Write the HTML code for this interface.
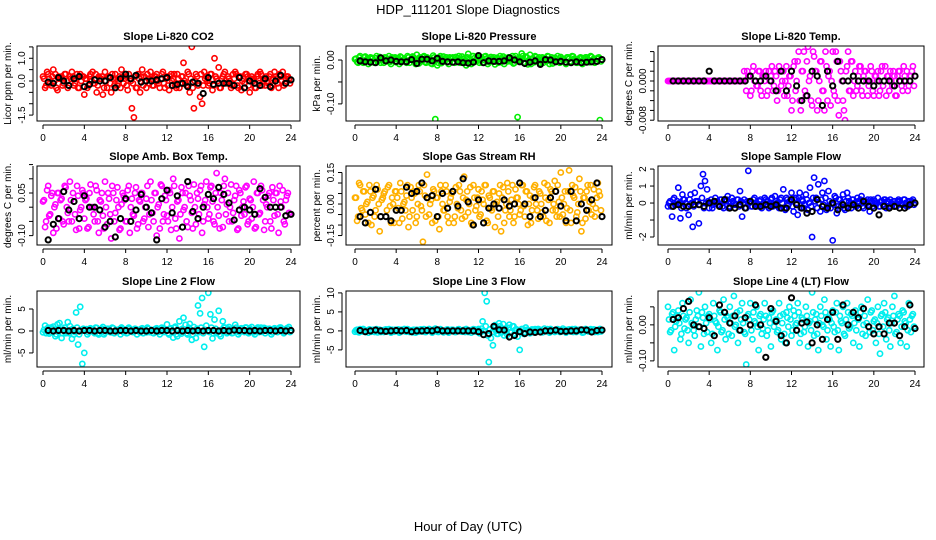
<!DOCTYPE html>
<html><head><meta charset="utf-8"><style>
body{margin:0;background:#fff}
svg{display:block;font-family:"Liberation Sans",sans-serif}
</style></head><body>
<svg id="chart" width="936" height="540" viewBox="0 0 936 540">
<text x="468" y="14" text-anchor="middle" font-size="13">HDP_111201  Slope Diagnostics</text>
<text x="468" y="531" text-anchor="middle" font-size="13">Hour of Day (UTC)</text>
</svg>
<script>
const hoursColored = [0,0.2,0.4,0.6,0.8,1,1.2,1.4,1.6,1.8,2,2.2,2.4,2.6,2.8,3,3.2,3.4,3.6,3.8,4,4.2,4.4,4.6,4.8,5,5.2,5.4,5.6,5.8,6,6.2,6.4,6.6,6.8,7,7.2,7.4,7.6,7.8,8,8.2,8.4,8.6,8.8,9,9.2,9.4,9.6,9.8,10,10.2,10.4,10.6,10.8,11,11.2,11.4,11.6,11.8,12,12.2,12.4,12.6,12.8,13,13.2,13.4,13.6,13.8,14,14.2,14.4,14.6,14.8,15,15.2,15.4,15.6,15.8,16,16.2,16.4,16.6,16.8,17,17.2,17.4,17.6,17.8,18,18.2,18.4,18.6,18.8,19,19.2,19.4,19.6,19.8,20,20.2,20.4,20.6,20.8,21,21.2,21.4,21.6,21.8,22,22.2,22.4,22.6,22.8,23,23.2,23.4,23.6,23.8];
const hoursCore = [0.1,0.3,0.5,0.7,0.9,1.1,1.3,1.5,1.7,1.9,2.1,2.3,2.5,2.7,2.9,3.1,3.3,3.5,3.7,3.9,4.1,4.3,4.5,4.7,4.9,5.1,5.3,5.5,5.7,5.9,6.1,6.3,6.5,6.7,6.9,7.1,7.3,7.5,7.7,7.9,8.1,8.3,8.5,8.7,8.9,9.1,9.3,9.5,9.7,9.9,10.1,10.3,10.5,10.7,10.9,11.1,11.3,11.5,11.7,11.9,12.1,12.3,12.5,12.7,12.9,13.1,13.3,13.5,13.7,13.9,14.1,14.3,14.5,14.7,14.9,15.1,15.3,15.5,15.7,15.9,16.1,16.3,16.5,16.7,16.9,17.1,17.3,17.5,17.7,17.9,18.1,18.3,18.5,18.7,18.9,19.1,19.3,19.5,19.7,19.9,20.1,20.3,20.5,20.7,20.9,21.1,21.3,21.5,21.7,21.9,22.1,22.3,22.5,22.7,22.9,23.1,23.3,23.5,23.7,23.9];
const hoursBlack = [0.5,1,1.5,2,2.5,3,3.5,4,4.5,5,5.5,6,6.5,7,7.5,8,8.5,9,9.5,10,10.5,11,11.5,12,12.5,13,13.5,14,14.5,15,15.5,16,16.5,17,17.5,18,18.5,19,19.5,20,20.5,21,21.5,22,22.5,23,23.5,24];
const xTicks = [0,4,8,12,16,20,24];

const co2Colored = [0.2,-0.3,0.4,0.1,-0.2,0.5,0.3,-0.4,0.1,0.2, -0.1,0.3,-0.3,0.2,0.4,-0.2,0.1,-0.3,0.3,0.2, -0.6,0.1,-0.2,0.3,0.4,-0.1,-0.5,0.2,0.1,-0.6, 0.4,-0.3,0.2,-0.5,0.1,0.3,-0.2,0.2,0.5,-0.1, 0.2,-0.4,0.1,-1.2,-1.6,-0.3,0.3,-0.5,0.5,0.2, -0.3,0.1,0.4,-0.2,0.2,0.3,-0.1,0.1,0.4,-0.3, 0.2,-0.4,0.3,0.1,-0.2,0.3,-0.3,0.2,0.8,-0.1, 0.4,-0.5,1.5,-1.2,0.3,-0.2,-0.7,-1.0,0.4,0.2, -0.2,0.3,-0.4,1.0,0.1,0.6,-0.3,0.2,0.4,-0.1, 0.1,-0.3,0.3,0.4,-0.2,0.2,-0.4,0.1,0.3,0.2, -0.5,0.2,0.1,-0.3,0.3,0.4,-0.2,0.1,0.2,-0.1, 0.3,-0.2,0.4,0.1,-0.3,0.2,0.4,-0.1,0.2,0.1];
const co2Core = [0.1,-0.2,0.3,-0.1,0.2,0.0,-0.3,0.2,0.1,-0.2, 0.3,0.0,-0.2,0.1,0.2,-0.1,0.3,-0.3,0.0,0.2, 0.1,-0.3,0.2,0.0,-0.1,0.3,-0.2,0.1,0.2,-0.3, 0.0,0.2,-0.1,0.3,-0.2,0.1,0.0,-0.3,0.2,0.1, -0.2,0.3,0.0,-0.1,0.2,-0.3,0.1,0.2,-0.2,0.0, 0.3,-0.1,0.1,-0.2,0.2,0.0,-0.3,0.3,-0.1,0.1, -0.2,0.2,0.0,0.3,-0.3,0.1,-0.1,0.2,0.0,-0.2, 0.3,0.1,-0.3,0.0,0.2,-0.1,0.3,-0.2,0.1,0.0, -0.1,0.3,-0.2,0.2,0.0,-0.3,0.1,0.3,-0.1,0.2, 0.0,-0.2,0.1,0.3,-0.3,0.2,0.0,-0.1,0.3,-0.2, 0.1,0.0,-0.3,0.2,-0.1,0.3,0.1,-0.2,0.0,0.2, -0.3,0.1,0.2,-0.1,0.3,0.0,-0.2,0.1,0.2,-0.1];
const co2Black = [-0.05,-0.1,0.15,0.0,-0.2,0.1,0.2,-0.25, -0.15,0.05,0.0,0.0,0.15,-0.3,0.1,0.3, 0.1,0.25,-0.05,0.0,0.0,0.05,0.1,0.15, -0.2,-0.15,-0.1,-0.25,-0.05,-0.1,-0.55,0.15, -0.15,-0.1,-0.1,-0.1,-0.2,0.15,-0.3,0.0, -0.1,-0.2,0.1,-0.25,0.0,0.25,-0.1,0.05];

const presColored = [0.002,-0.004,0.006,0.000,-0.006,0.008,0.003,-0.002,0.005,-0.005, 0.004,-0.003,0.007,0.001,-0.006,0.005,0.002,-0.004,0.006,0.003, -0.005,0.004,0.008,-0.002,0.003,-0.006,0.006,0.001,0.008,-0.003, 0.012,-0.008,0.004,0.007,-0.004,0.006,0.002,-0.008,0.010,-0.135, -0.012,0.005,-0.007,0.008,0.002,-0.004,0.006,0.003,-0.005,0.007, 0.004,-0.006,0.008,0.002,-0.012,0.014,-0.005,0.009,0.004,-0.003, 0.006,0.001,-0.006,0.008,0.003,-0.004,0.007,0.002,-0.010,0.005, 0.003,-0.005,0.008,0.004,-0.003,0.006,0.002,-0.008,0.009,-0.130, 0.004,0.015,-0.006,0.008,-0.010,0.012,0.003,-0.005,0.007,0.002, -0.006,0.006,0.004,-0.003,0.008,0.002,-0.008,0.005,0.003,-0.004, 0.007,0.002,-0.005,0.006,0.003,-0.004,0.008,0.001,-0.006,0.004, 0.005,-0.003,0.006,0.002,-0.005,0.007,0.003,-0.004,0.005,-0.137];
const presCore = [0.003,-0.006,0.009,-0.003,0.006,0,-0.009,0.006,0.003,-0.006, 0.009,0,-0.006,0.003,0.006,-0.003,0.009,-0.009,0,0.006, 0.003,-0.009,0.006,0,-0.003,0.009,-0.006,0.003,0.006,-0.009, 0,0.006,-0.003,0.009,-0.006,0.003,0,-0.009,0.006,0.003, -0.006,0.009,0,-0.003,0.006,-0.009,0.003,0.006,-0.006,0, 0.009,-0.003,0.003,-0.006,0.006,0,-0.009,0.009,-0.003,0.003, -0.006,0.006,0,0.009,-0.009,0.003,-0.003,0.006,0,-0.006, 0.009,0.003,-0.009,0,0.006,-0.003,0.009,-0.006,0.003,0, -0.003,0.009,-0.006,0.006,0,-0.009,0.003,0.009,-0.003,0.006, 0,-0.006,0.003,0.009,-0.009,0.006,0,-0.003,0.009,-0.006, 0.003,0,-0.009,0.006,-0.003,0.009,0.003,-0.006,0,0.006, -0.009,0.003,0.006,-0.003,0.009,0,-0.006,0.003,0.006,-0.003];
const presBlack = [-0.002,-0.004,-0.005,-0.006,0.005,-0.002,0.000,-0.003, -0.004,-0.004,0.001,-0.008,0.002,0.002,-0.002,0.004, -0.003,-0.004,-0.005,-0.004,-0.006,-0.007,-0.005,0.010, -0.006,-0.002,-0.003,-0.003,-0.002,0.005,0.000,-0.004, -0.008,-0.005,-0.002,-0.010,0.001,0.000,-0.004,-0.003, -0.005,-0.006,-0.004,-0.006,-0.005,-0.004,-0.003,0.001];

const tempColored = [0,0,0,0,0,0,0,0,0,0, 0,0,0,0,0,0,0,0,0,0, 0,0,0,0,0,0,0,0,0,0, 0,0,0,0,0,0,0,0.002,-0.002,0.001, -0.003,0.002,0.000,-0.001,0.002,-0.002,0.001,0.000,-0.003,0.002, 0.001,-0.002,0.002,-0.004,0.003,-0.001,0.002,0.000,-0.003,0.001, -0.006,0.003,-0.002,0.004,-0.004,0.002,0.006,-0.003,0.007,0.001, -0.005,0.005,0.002,-0.004,0.004,-0.002,-0.006,0.003,0.001,-0.005, 0.006,-0.003,0.004,-0.007,0.002,-0.004,-0.008,0.003,-0.002,0.004, -0.003,0.002,-0.001,0.003,-0.002,0.001,0.002,-0.003,0.000,0.002, -0.003,0.001,0.002,-0.002,0.003,0.000,-0.003,0.001,0.002,-0.001, 0.001,-0.003,0.002,0.000,-0.002,0.001,0.002,-0.001,0.001,0.003];
const tempCore = [0,0,0,0,0,0,0,0,0,0, 0,0,0,0,0,0,0,0,0,0, 0,0,0,0,0,0,0,0,0,0, 0,0,0,0,0,0,0,0,0.002,0.001, -0.002,0.003,0,-0.001,0.002,-0.003,0.001,0.002,-0.002,0, 0.003,-0.001,0.001,-0.002,0.002,0,-0.003,0.003,-0.001,0.001, -0.004,0.004,0,0.006,-0.006,0.002,-0.002,0.004,0,-0.004, 0.006,0.002,-0.006,0,0.004,-0.002,0.006,-0.004,0.002,0, -0.002,0.006,-0.004,0.004,0,-0.006,0.002,0.006,-0.002,0.004, 0,-0.002,0.001,0.003,-0.003,0.002,0,-0.001,0.003,-0.002, 0.001,0,-0.003,0.002,-0.001,0.003,0.001,-0.002,0,0.002, -0.003,0.001,0.002,-0.001,0.003,0,-0.002,0.001,0.002,-0.001];
const tempBlack = [0,0,0,0,0,0,0,0.002, 0,0,0,0,0,0,0,0.001, 0,0,0.001,0,-0.002,0.002,-0.002,0.002, -0.001,-0.004,-0.003,0.002,0.001,-0.005,0.002,-0.001, 0.004,0.000,0.000,0.001,0.000,0.000,0.000,-0.001, 0.000,0.000,0.000,-0.001,0.000,0.000,0.000,0.001];

const ambColored = [0.02,-0.07,0.06,-0.03,0.04,-0.09,0.01,0.05,-0.04,0.03, -0.06,0.07,-0.02,0.09,-0.05,0.02,-0.08,0.04,-0.01,0.06, -0.04,0.03,-0.07,0.08,0.00,-0.05,0.06,-0.09,0.02,-0.03, 0.09,-0.06,0.03,-0.11,0.05,-0.02,0.07,-0.08,0.01,0.04, -0.05,0.06,-0.09,0.03,-0.03,0.07,-0.06,0.02,0.05,-0.04, 0.03,-0.07,0.09,-0.02,0.05,-0.10,0.01,0.08,-0.05,0.04, -0.03,0.06,-0.08,0.10,-0.04,0.02,-0.11,0.07,-0.01,0.05, -0.07,0.04,-0.02,0.08,-0.06,0.03,0.06,-0.09,0.01,0.09, -0.04,0.07,0.02,-0.06,0.12,-0.03,0.05,-0.07,0.10,0.01, -0.05,0.08,-0.02,0.04,-0.08,0.06,-0.03,0.02,0.07,-0.06, 0.03,-0.04,0.09,-0.07,0.05,-0.02,0.06,-0.08,0.01,0.04, -0.05,0.07,-0.03,0.05,-0.09,0.02,0.06,-0.06,0.04,-0.02];
const ambCore = [0.025,-0.05,0.075,-0.025,0.05,0,-0.075,0.05,0.025,-0.05, 0.075,0,-0.05,0.025,0.05,-0.025,0.075,-0.075,0,0.05, 0.025,-0.075,0.05,0,-0.025,0.075,-0.05,0.025,0.05,-0.075, 0,0.05,-0.025,0.075,-0.05,0.025,0,-0.075,0.05,0.025, -0.05,0.075,0,-0.025,0.05,-0.075,0.025,0.05,-0.05,0, 0.075,-0.025,0.025,-0.05,0.05,0,-0.075,0.075,-0.025,0.025, -0.05,0.05,0,0.075,-0.075,0.025,-0.025,0.05,0,-0.05, 0.075,0.025,-0.075,0,0.05,-0.025,0.075,-0.05,0.025,0, -0.025,0.075,-0.05,0.05,0,-0.075,0.025,0.075,-0.025,0.05, 0,-0.05,0.025,0.075,-0.075,0.05,0,-0.025,0.075,-0.05, 0.025,0,-0.075,0.05,-0.025,0.075,0.025,-0.05,0,0.05, -0.075,0.025,0.05,-0.025,0.075,0,-0.05,0.025,0.05,-0.025];
const ambBlack = [-0.115,-0.06,-0.04,0.055,-0.01,0.02,-0.04,0.04, 0.00,0.00,-0.01,-0.07,-0.05,-0.105,-0.04,0.03, -0.05,-0.01,0.045,0.00,-0.02,-0.115,0.03,0.06, -0.02,0.04,-0.07,0.09,-0.015,-0.04,0.00,0.045, 0.03,0.07,0.045,0.015,-0.045,-0.01,0.00,-0.01, -0.025,0.065,0.035,0.00,0.00,0.00,-0.03,-0.025];

const rhColored = [0.03,-0.08,0.10,-0.02,0.06,-0.05,0.01,0.09,-0.10,0.04, -0.03,0.07,-0.13,0.02,0.05,-0.06,0.08,-0.01,0.03,-0.09, 0.06,-0.02,0.10,-0.07,0.01,0.04,-0.11,0.08,-0.03,0.05, -0.06,0.09,-0.01,-0.18,0.04,0.14,-0.05,0.02,0.07,-0.08, 0.03,-0.12,0.06,-0.03,0.09,-0.06,0.01,0.05,-0.09,0.08, -0.02,0.06,-0.07,0.13,0.02,-0.04,0.08,-0.10,0.03,-0.01, 0.07,-0.05,0.02,0.09,-0.08,0.04,-0.02,0.06,-0.11,0.01, 0.05,-0.13,0.08,-0.03,0.10,-0.06,0.02,-0.09,0.07,0.03, -0.05,0.09,-0.01,0.06,-0.10,0.04,-0.03,0.08,0.00,-0.07, 0.05,-0.04,0.10,-0.08,0.02,0.07,-0.03,0.11,-0.06,0.01, 0.15,-0.05,0.06,-0.02,0.16,-0.09,0.04,0.08,-0.04,0.12, -0.13,0.03,-0.07,0.09,0.01,-0.05,0.07,-0.02,0.10,0.04];
const rhCore = [0.03,-0.06,0.09,-0.03,0.06,0,-0.09,0.06,0.03,-0.06, 0.09,0,-0.06,0.03,0.06,-0.03,0.09,-0.09,0,0.06, 0.03,-0.09,0.06,0,-0.03,0.09,-0.06,0.03,0.06,-0.09, 0,0.06,-0.03,0.09,-0.06,0.03,0,-0.09,0.06,0.03, -0.06,0.09,0,-0.03,0.06,-0.09,0.03,0.06,-0.06,0, 0.09,-0.03,0.03,-0.06,0.06,0,-0.09,0.09,-0.03,0.03, -0.06,0.06,0,0.09,-0.09,0.03,-0.03,0.06,0,-0.06, 0.09,0.03,-0.09,0,0.06,-0.03,0.09,-0.06,0.03,0, -0.03,0.09,-0.06,0.06,0,-0.09,0.03,0.09,-0.03,0.06, 0,-0.06,0.03,0.09,-0.09,0.06,0,-0.03,0.09,-0.06, 0.03,0,-0.09,0.06,-0.03,0.09,0.03,-0.06,0,0.06, -0.09,0.03,0.06,-0.03,0.09,0,-0.06,0.03,0.06,-0.03];
const rhBlack = [-0.06,-0.09,-0.04,0.07,-0.06,-0.06,-0.08,-0.03, -0.03,0.08,0.05,0.06,0.10,0.03,0.04,-0.06, 0.05,-0.02,0.06,-0.01,0.12,0.01,-0.10,0.02, -0.09,-0.02,0.00,-0.02,0.02,-0.01,0.00,0.10, 0.00,-0.06,0.03,-0.06,-0.03,0.03,0.06,-0.01, -0.08,0.06,-0.08,0.00,-0.03,0.02,0.10,-0.06];

const sflowColored = [-0.2,0.1,-0.8,0.3,-0.1,0.9,-0.9,0.5,0.2,-0.3, -0.7,0.5,-1.4,0.6,0.1,-1.2,1.0,1.7,1.3,0.8, -0.3,0.2,-0.1,0.3,0.1,-0.2,0.2,-0.3,0.1,0.4, -0.2,0.3,0.0,-0.1,0.2,0.7,-0.8,0.2,-0.3,1.9, 0.1,-0.2,0.3,0.0,-0.2,0.2,-0.1,0.3,0.1,-0.3, 0.2,-0.2,0.4,0.0,-0.3,0.3,0.8,-0.4,0.2,0.1, 0.6,-0.5,0.3,-0.7,0.6,0.2,-0.3,0.5,-0.4,0.9, -2.0,1.5,0.3,1.1,-0.5,0.6,1.3,-0.4,0.7,-0.3, -2.2,0.4,-0.6,0.2,-0.2,0.5,-0.4,0.6,0.1,-0.3, 0.2,-0.2,0.3,0.0,0.4,-0.3,0.1,0.2,-0.5,0.1, 0.2,-0.1,0.3,-0.2,0.1,0.2,-0.3,0.1,0.2,-0.1, 0.1,-0.2,0.2,0.0,-0.1,0.2,-0.2,0.1,0.0,0.2];
const sflowCore = [0.0,-0.2,0.2,-0.1,0.1,0.0,-0.3,0.2,0.0,-0.2, 0.2,0.0,-0.2,0.1,0.1,-0.1,0.3,-0.3,0.0,0.1, 0.0,-0.3,0.1,0.0,-0.1,0.2,-0.2,0.1,0.2,-0.3, 0.0,0.1,-0.1,0.2,-0.2,0.1,0.0,-0.3,0.1,0.0, -0.2,0.2,0.0,-0.1,0.1,-0.3,0.0,0.2,-0.2,0.0, 0.3,-0.1,0.1,-0.2,0.2,0.0,-0.3,0.3,-0.1,0.1, -0.2,0.2,0.0,0.3,-0.3,0.1,-0.1,0.2,0.0,-0.2, 0.3,0.1,-0.3,0.0,0.2,-0.1,0.3,-0.2,0.1,0.0, -0.1,0.3,-0.2,0.2,0.0,-0.3,0.1,0.3,-0.1,0.2, 0.0,-0.2,0.1,0.2,-0.2,0.1,0.0,-0.1,0.2,-0.2, 0.1,0.0,-0.2,0.1,-0.1,0.2,0.1,-0.2,0.0,0.1, -0.2,0.1,0.1,-0.1,0.2,0.0,-0.2,0.1,0.1,-0.1];
const sflowBlack = [-0.2,-0.1,-0.2,-0.2,-0.1,-0.1,-0.2,0.0, 0.1,-0.2,0.2,-0.3,-0.3,-0.1,-0.3,0.1, -0.2,-0.2,-0.1,-0.2,-0.1,-0.3,-0.3,0.2, -0.1,-0.3,-0.6,-0.5,0.2,-0.2,-0.3,0.0, -0.4,-0.1,-0.3,-0.1,-0.3,0.1,-0.2,-0.3, -0.7,-0.2,-0.3,-0.2,-0.3,-0.3,-0.1,0.0];

const line2Colored = [-0.3,1.2,0.5,-0.6,0.8,1.0,-1.2,1.5,1.8,-1.6, 0.3,-0.5,2.0,1.1,-1.8,-0.8,4.2,-3.1,5.5,-7.5, -5.0,0.4,-0.3,0.6,0.2,-0.5,0.7,-0.8,0.3,0.9, -0.4,0.5,0.2,-0.3,0.6,0.1,-0.2,0.4,0.8,-0.3, 0.3,-0.4,0.5,0.2,-0.2,0.4,0.1,-0.3,0.6,0.2, -0.3,0.5,0.1,-0.4,0.3,0.6,-0.2,0.2,0.4,0.1, 1.5,-0.8,0.6,-1.5,1.0,-1.2,2.2,-0.6,3.0,1.4, -0.8,1.6,-2.0,0.9,-1.6,5.8,4.0,7.5,-3.6,1.2, 8.7,3.8,-1.7,2.6,-0.5,4.6,-1.2,2.2,0.8,-0.5, 0.9,0.3,-0.4,1.4,0.2,-0.3,0.6,0.1,0.8,-0.2, 0.6,0.9,-0.3,0.4,0.8,0.2,-0.2,0.7,0.5,0.1, 0.4,-0.3,0.6,0.2,0.5,0.8,-0.2,0.3,0.6,0.9];
const line2Core = [0.25,-0.5,0.75,-0.25,0.5,0,-0.75,0.5,0.25,-0.5, 0.75,0,-0.5,0.25,0.5,-0.25,0.75,-0.75,0,0.5, 0.25,-0.75,0.5,0,-0.25,0.75,-0.5,0.25,0.5,-0.75, 0,0.5,-0.25,0.75,-0.5,0.25,0,-0.75,0.5,0.25, -0.5,0.75,0,-0.25,0.5,-0.75,0.25,0.5,-0.5,0, 0.75,-0.25,0.25,-0.5,0.5,0,-0.75,0.75,-0.25,0.25, -0.5,0.5,0,0.75,-0.75,0.25,-0.25,0.5,0,-0.5, 0.75,0.25,-0.75,0,0.5,-0.25,0.75,-0.5,0.25,0, -0.25,0.75,-0.5,0.5,0,-0.75,0.25,0.75,-0.25,0.5, 0,-0.5,0.25,0.75,-0.75,0.5,0,-0.25,0.75,-0.5, 0.25,0,-0.75,0.5,-0.25,0.75,0.25,-0.5,0,0.5, -0.75,0.25,0.5,-0.25,0.75,0,-0.5,0.25,0.5,-0.25];
const line2Black = [0.1,0.0,0.1,0.1,0.0,0.1,0.0,0.1, 0.1,0.0,0.1,0.1,0.0,0.0,0.1,0.1, 0.0,0.1,0.0,0.0,0.1,0.0,0.1,0.1, 0.0,0.1,0.0,0.1,0.0,0.1,0.0,0.1, 0.1,0.0,0.1,0.0,0.2,0.1,0.1,0.0, 0.1,0.0,0.1,0.1,0.0,0.1,0.0,0.1];

const line3Colored = [-0.2,0.3,-0.4,0.2,0.5,-0.3,0.1,0.4,-0.2,0.3, 0.2,-0.4,0.3,0.1,-0.3,0.4,0.2,-0.1,0.3,-0.2, 0.1,0.4,-0.3,0.2,0.5,-0.2,0.3,0.1,-0.4,0.2, 0.3,-0.2,0.4,0.1,-0.3,0.2,0.5,-0.1,0.3,0.6, -0.2,0.3,0.1,-0.4,0.2,0.4,-0.1,0.3,0.2,-0.3, 0.4,0.1,-0.2,0.3,0.5,-0.3,0.2,0.1,0.4,-0.2, 0.5,-0.4,2.5,10.0,7.8,-8.2,-1.9,-3.8,1.5,-0.8, 2.0,-0.5,1.8,0.6,-1.0,1.6,-0.4,1.2,0.3,-1.5, -5.0,0.5,-0.8,0.9,0.2,-0.6,0.4,0.1,-0.3,0.5, 0.3,-0.4,0.6,0.2,-0.2,0.5,0.1,-0.3,0.4,0.2, -0.2,0.6,0.3,-0.1,0.4,0.2,-0.3,0.5,0.1,0.3, 0.2,-0.4,0.5,0.1,0.3,-0.2,0.4,0.2,-0.3,0.5];
const line3Core = [0.15,-0.3,0.45,-0.15,0.3,0,-0.45,0.3,0.15,-0.3, 0.45,0,-0.3,0.15,0.3,-0.15,0.45,-0.45,0,0.3, 0.15,-0.45,0.3,0,-0.15,0.45,-0.3,0.15,0.3,-0.45, 0,0.3,-0.15,0.45,-0.3,0.15,0,-0.45,0.3,0.15, -0.3,0.45,0,-0.15,0.3,-0.45,0.15,0.3,-0.3,0, 0.45,-0.15,0.15,-0.3,0.3,0,-0.45,0.45,-0.15,0.15, -0.6,0.6,0,1.2,-1.2,0.4,-0.4,0.8,0,-0.8, 1.2,0.4,-1.2,0,0.8,-0.4,1.2,-0.8,0.4,0, -0.15,0.45,-0.3,0.3,0,-0.45,0.15,0.45,-0.15,0.3, 0,-0.3,0.15,0.45,-0.45,0.3,0,-0.15,0.45,-0.3, 0.15,0,-0.45,0.3,-0.15,0.45,0.15,-0.3,0,0.3, -0.45,0.15,0.3,-0.15,0.45,0,-0.3,0.15,0.3,-0.15];
const line3Black = [0.1,-0.2,0.0,0.2,0.0,-0.1,0.0,0.1, 0.0,0.1,-0.2,0.0,0.0,0.1,0.0,0.3, 0.0,0.0,0.0,0.0,0.0,0.0,0.0,-0.2, -1.0,-0.7,1.2,0.3,0.2,-1.6,-1.2,-0.2, -0.7,-0.3,-0.4,-0.3,0.0,0.0,0.2,-0.1, -0.1,0.0,0.0,0.3,0.2,-0.3,0.1,0.2];

const line4Colored = [0.05,-0.02,0.03,-0.07,0.01,0.04,-0.04,0.06,-0.01,0.02, -0.05,0.07,0.00,-0.03,0.04,0.09,-0.06,0.02,0.05,-0.02, 0.03,-0.05,0.06,0.01,-0.07,0.04,-0.02,0.07,-0.04,0.02, 0.05,-0.03,0.08,0.00,-0.05,0.04,0.06,-0.02,-0.11,0.03, 0.06,-0.04,0.01,0.05,-0.07,0.03,-0.01,0.06,-0.03,0.02, -0.06,0.04,0.01,-0.02,0.06,-0.04,0.03,-0.05,0.02,0.05, -0.03,0.04,0.00,0.06,-0.05,0.02,-0.02,0.05,-0.06,0.01, 0.09,-0.03,0.03,-0.07,0.05,0.00,0.07,-0.04,0.02,-0.06, 0.04,-0.02,0.06,-0.07,0.01,0.05,-0.03,0.06,-0.01,0.03, -0.05,0.04,0.02,-0.06,0.05,0.00,-0.03,0.07,-0.02,0.04, 0.01,-0.05,0.05,-0.08,0.03,0.06,-0.04,0.02,-0.06,0.05, 0.08,-0.02,0.03,-0.05,0.04,0.01,-0.06,0.06,-0.02,0.03];
const line4Core = [0.015,-0.015,0.035,-0.005,0.025,0.005,-0.025,0.025,0.015,-0.015, 0.035,0.005,-0.015,0.015,0.025,-0.005,0.035,-0.025,0.005,0.025, 0.015,-0.025,0.025,0.005,-0.005,0.035,-0.015,0.015,0.025,-0.025, 0.005,0.025,-0.005,0.035,-0.015,0.015,0.005,-0.025,0.025,0.015, -0.015,0.035,0.005,-0.005,0.025,-0.025,0.015,0.025,-0.015,0.005, 0.035,-0.005,0.015,-0.015,0.025,0.005,-0.025,0.035,-0.005,0.015, -0.015,0.025,0.005,0.035,-0.025,0.015,-0.005,0.025,0.005,-0.015, 0.035,0.015,-0.025,0.005,0.025,-0.005,0.035,-0.015,0.015,0.005, -0.005,0.035,-0.015,0.025,0.005,-0.025,0.015,0.035,-0.005,0.025, 0.005,-0.015,0.015,0.035,-0.025,0.025,0.005,-0.005,0.035,-0.015, 0.015,0.005,-0.025,0.025,-0.005,0.035,0.015,-0.015,0.005,0.025, -0.025,0.015,0.025,-0.005,0.035,0.005,-0.015,0.015,0.025,-0.005];
const line4Black = [0.015,0.02,0.045,0.065,0.00,-0.005,-0.01,0.02, -0.03,0.055,0.035,0.005,0.025,-0.015,0.02,0.00, 0.055,0.00,-0.09,0.045,0.01,-0.03,-0.05,0.075, -0.015,0.005,0.008,-0.05,0.00,-0.04,0.015,0.035, -0.04,0.055,0.00,0.035,0.02,0.045,-0.005,-0.025, -0.005,-0.025,0.005,0.005,-0.03,-0.005,0.055,-0.01];

const panels = [
 {name:'co2', title:'Slope Li-820 CO2', ylab:'Licor ppm per min.', col:0,row:0, yTop:1.54, yBot:-1.76, yTicks:[-1.5,-1,-0.5,0,0.5,1,1.5], yLabels:{'-1.5':'-1.5','0':'0.0','1':'1.0'}, color:'#ff0000', c:co2Colored, k:co2Core, b:co2Black},
 {name:'pressure', title:'Slope Li-820 Pressure', ylab:'kPa per min.', col:1,row:0, yTop:0.032, yBot:-0.139, yTicks:[-0.10,-0.05,0], yLabels:{'-0.1':'-0.10','0':'0.00'}, color:'#00ee00', c:presColored, k:presCore, b:presBlack},
 {name:'temp', title:'Slope Li-820 Temp.', ylab:'degrees C per min.', col:2,row:0, yTop:0.00714, yBot:-0.00816, yTicks:[-0.008,-0.006,-0.004,-0.002,0,0.002,0.004,0.006], yLabels:{'-0.008':'-0.008','0':'0.000'}, color:'#ff00ff', c:tempColored, k:tempCore, b:tempBlack},
 {name:'amb-box-temp', title:'Slope Amb. Box Temp.', ylab:'degrees C per min.', col:0,row:1, yTop:0.145, yBot:-0.133, yTicks:[-0.10,-0.05,0,0.05,0.10,0.15], yLabels:{'-0.1':'-0.10','0.05':'0.05'}, color:'#ff00ff', c:ambColored, k:ambCore, b:ambBlack},
 {name:'gas-rh', title:'Slope Gas Stream RH', ylab:'percent per min.', col:1,row:1, yTop:0.181, yBot:-0.195, yTicks:[-0.15,-0.10,-0.05,0,0.05,0.10,0.15], yLabels:{'-0.15':'-0.15','0':'0.00','0.15':'0.15'}, color:'#ffb000', c:rhColored, k:rhCore, b:rhBlack},
 {name:'sample-flow', title:'Slope Sample Flow', ylab:'ml/min per min.', col:2,row:1, yTop:2.18, yBot:-2.47, yTicks:[-2,-1,0,1,2], yLabels:{'-2':'-2','0':'0','1':'1','2':'2'}, color:'#0000ff', c:sflowColored, k:sflowCore, b:sflowBlack},
 {name:'line2-flow', title:'Slope Line 2 Flow', ylab:'ml/min per min.', col:0,row:2, yTop:9.1, yBot:-8.2, yTicks:[-5,0,5], yLabels:{'-5':'-5','0':'0','5':'5'}, color:'#00eeee', c:line2Colored, k:line2Core, b:line2Black},
 {name:'line3-flow', title:'Slope Line 3 Flow', ylab:'ml/min per min.', col:1,row:2, yTop:10.5, yBot:-9.5, yTicks:[-5,0,5,10], yLabels:{'-5':'-5','0':'0','5':'5','10':'10'}, color:'#00eeee', c:line3Colored, k:line3Core, b:line3Black},
 {name:'line4-flow', title:'Slope Line 4 (LT) Flow', ylab:'ml/min per min.', col:2,row:2, yTop:0.094, yBot:-0.117, yTicks:[-0.10,-0.05,0,0.05], yLabels:{'-0.1':'-0.10','0':'0.00'}, color:'#00eeee', c:line4Colored, k:line4Core, b:line4Black}
];

const colBox = [[37,300,43,291],[346,612,355,602],[658,924,668,915]];
const rowBox = [[46,121],[166,245],[291,367]];
const svg = document.getElementById('chart');
const NS = 'http://www.w3.org/2000/svg';
function mk(tag, attrs, parent){
  const e = document.createElementNS(NS, tag);
  for (const k in attrs) e.setAttribute(k, attrs[k]);
  (parent||svg).appendChild(e);
  return e;
}

panels.forEach(p => {
  const [bx0,bx1,x0px,x24px] = colBox[p.col];
  const [by0,by1] = rowBox[p.row];
  const xs = h => x0px + (x24px - x0px) * h / 24;
  const ys = v => by0 + (by1 - by0) * (p.yTop - v) / (p.yTop - p.yBot);
  const g = mk('g', {});
  
  
  const t = mk('text', {x:(bx0+bx1)/2, y:by0-6, 'text-anchor':'middle', 'font-size':'11', 'font-weight':'bold'}, g);
  t.textContent = p.title;
  
  
  const clip = mk('clipPath', {id:'clip-'+p.name}, g);
  mk('rect', {x:bx0, y:by0, width:bx1-bx0, height:by1-by0}, clip);
  const pts = mk('g', {'clip-path':'url(#clip-'+p.name+')', fill:'none', 'stroke-width':'1.6'}, g);
  
  
  p.c.forEach((v,i) => {
    const c = mk('circle', {cx:xs(hoursColored[i]).toFixed(1), cy:ys(v).toFixed(1), r:'2.6', stroke:p.color}, pts);
    
    
  });
  p.k.forEach((v,i) => {
    const c = mk('circle', {cx:xs(hoursCore[i]).toFixed(1), cy:ys(v).toFixed(1), r:'2.6', stroke:p.color}, pts);
    
    
  });
  p.b.forEach((v,i) => {
    const c = mk('circle', {cx:xs(hoursBlack[i]).toFixed(1), cy:ys(v).toFixed(1), r:'2.6', stroke:'#000', 'stroke-width':'2'}, pts);
    
    
  });
  const box = mk('rect', {x:bx0, y:by0, width:bx1-bx0, height:by1-by0, fill:'none', stroke:'#000', 'stroke-width':'1'}, g);
  
  
  const xa = mk('g', {stroke:'#000', 'stroke-width':'1'}, g);
  
  
  const ay = by1 + 4;
  mk('line', {x1:xs(0), x2:xs(24), y1:ay, y2:ay}, xa);
  xTicks.forEach(tv => {
    mk('line', {x1:xs(tv), x2:xs(tv), y1:ay, y2:ay+4}, xa);
    const tl = mk('text', {x:xs(tv), y:ay+16, 'text-anchor':'middle', 'font-size':'10', stroke:'none'}, xa);
    tl.textContent = tv;
    
    
  });
  const ya = mk('g', {stroke:'#000', 'stroke-width':'1'}, g);
  
  
  const axx = bx0 - 4;
  const yt = p.yTicks;
  mk('line', {x1:axx, x2:axx, y1:Math.max(by0,ys(yt[yt.length-1])), y2:Math.min(by1+4,ys(yt[0]))}, ya);
  yt.forEach(tv => {
    const y = ys(tv);
    mk('line', {x1:axx, x2:axx-4, y1:y, y2:y}, ya);
    const key = String(+tv.toFixed(4));
    if (p.yLabels[key] !== undefined) {
      const tx = axx - 8;
      const tl = mk('text', {x:tx, y:y, 'text-anchor':'middle', 'font-size':'10', stroke:'none', transform:`rotate(-90 ${tx} ${y})`}, ya);
      tl.textContent = p.yLabels[key];
      
      
    }
  });
  const lx = bx0 - 26, ly = (by0+by1)/2;
  const yl = mk('text', {x:lx, y:ly, 'text-anchor':'middle', 'font-size':'10', transform:`rotate(-90 ${lx} ${ly})`}, g);
  yl.textContent = p.ylab;
  
  
});
</script>
</body></html>
